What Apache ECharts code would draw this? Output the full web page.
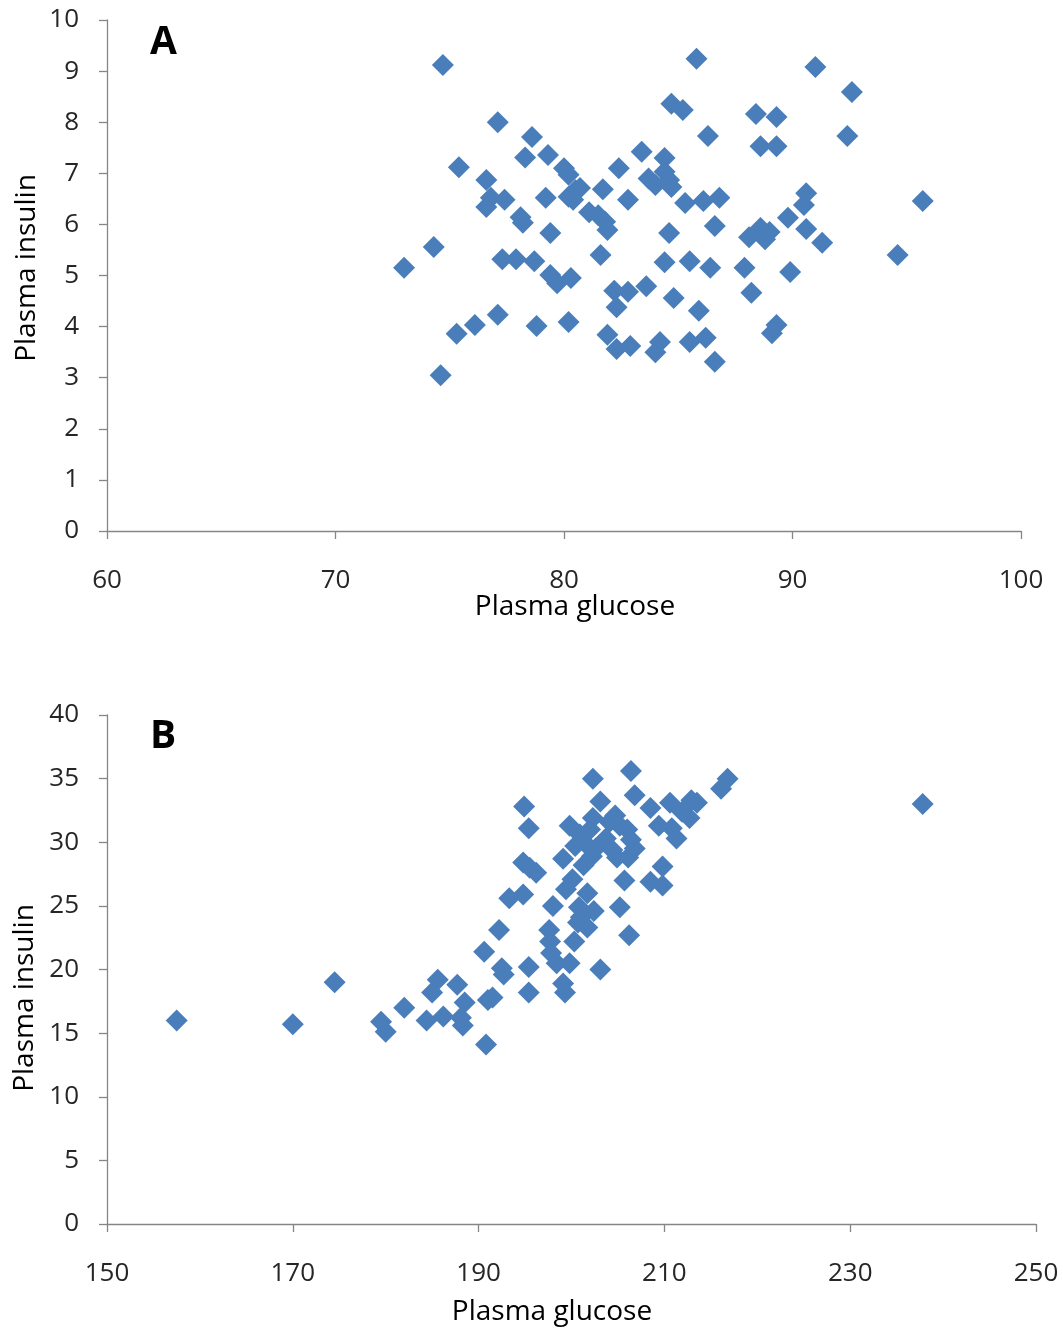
<!DOCTYPE html>
<html>
<head>
<meta charset="utf-8">
<script src="https://cdn.jsdelivr.net/npm/echarts@6/dist/echarts.min.js"></script>
<style>
html,body{margin:0;padding:0;background:#fff;}
#chart{width:1063px;height:1329px;}
</style>
</head>
<body>
<div id="chart"></div>
<script>
// Panel A
const glucoseA = [74.7,85.8,91.0,92.6,84.7,85.2,77.1,88.4,89.3,78.6,86.3,92.4,88.6,89.3,79.3,83.4,78.3,84.4,80.0,75.4,
  80.2,82.4,83.7,84.4,84.6,76.6,84.0,84.7,80.5,80.7,81.7,90.6,76.8,77.4,79.2,80.2,80.4,82.8,85.3,86.1,
  86.8,90.5,95.7,76.6,81.1,81.5,78.1,89.8,81.8,78.2,86.6,81.9,90.6,88.6,89.0,84.6,79.4,88.1,88.8,91.3,
  74.3,94.6,81.6,77.3,77.9,78.7,84.4,85.5,73.0,86.4,87.9,89.9,79.4,80.3,79.7,82.2,82.8,83.6,88.2,84.8,
  82.3,85.9,77.1,76.1,78.8,80.2,89.3,75.3,89.1,81.9,84.2,85.5,86.2,82.3,82.9,84.0,86.6,74.6];
const insulinA = [9.12,9.24,9.08,8.59,8.36,8.24,8.00,8.16,8.10,7.71,7.73,7.73,7.53,7.53,7.36,7.42,7.31,7.30,7.10,7.12,
  6.97,7.10,6.90,7.03,6.87,6.87,6.77,6.73,6.67,6.71,6.69,6.61,6.52,6.48,6.52,6.54,6.48,6.48,6.42,6.46,
  6.52,6.38,6.46,6.34,6.24,6.18,6.14,6.13,6.05,6.03,5.97,5.89,5.91,5.93,5.85,5.83,5.83,5.75,5.71,5.64,
  5.56,5.40,5.40,5.32,5.32,5.28,5.26,5.28,5.15,5.15,5.15,5.07,5.01,4.95,4.85,4.70,4.68,4.79,4.66,4.56,
  4.38,4.31,4.23,4.03,4.01,4.09,4.03,3.86,3.87,3.84,3.70,3.70,3.78,3.56,3.62,3.50,3.31,3.05];

// Panel B
const glucoseB = [157.5,170.0,174.5,179.5,180.0,182.0,184.4,185.0,185.6,186.2,187.7,188.1,188.5,188.3,190.8,190.6,191.0,191.5,192.2,192.5,
  192.7,193.3,194.8,194.9,195.4,194.8,195.5,196.2,195.4,195.4,198.0,197.6,197.7,197.8,198.4,199.1,199.3,199.8,199.1,199.8,
  199.4,200.1,200.4,200.9,202.0,202.3,200.8,200.7,201.0,200.3,201.7,201.7,201.3,202.2,201.5,202.3,203.1,203.1,202.4,203.7,
  204.1,204.7,205.2,204.9,204.4,206.0,206.4,206.4,206.8,206.1,205.7,205.2,206.2,206.8,208.5,209.4,209.8,208.5,209.8,210.8,
  211.3,210.6,211.9,212.7,212.9,213.5,216.1,216.8,237.8,202.6];
const insulinB = [16.0,15.7,19.0,15.9,15.1,17.0,16.0,18.2,19.2,16.3,18.8,16.2,17.4,15.6,14.1,21.4,17.6,17.8,23.1,20.1,
  19.6,25.6,25.9,32.8,31.1,28.4,28.0,27.6,20.2,18.2,25.0,23.1,22.2,21.3,20.5,18.9,18.2,20.5,28.7,31.3,
  26.3,27.1,29.7,30.6,31.0,31.9,24.9,23.7,24.1,22.2,23.3,26.0,28.2,28.9,29.9,35.0,33.2,20.0,24.6,30.3,
  31.6,32.1,31.3,28.8,29.4,31.0,35.6,30.2,29.5,28.8,27.0,24.9,22.7,33.7,32.7,31.3,28.1,26.9,26.6,31.1,
  30.3,33.1,32.4,31.9,33.3,33.1,34.2,35.0,33.0,29.5];

const xTicksA = [60,70,80,90,100];
const yTicksA = [0,1,2,3,4,5,6,7,8,9,10];
const xTicksB = [150,170,190,210,230,250];
const yTicksB = [0,5,10,15,20,25,30,35,40];

const FONT = '"Open Sans", "Noto Sans", sans-serif';
const AXIS_COLOR = '#868686';
const MARK_COLOR = '#4A7EBB';

function pairs(xs, ys){ return xs.map((x,i)=>[x, ys[i]]); }

function xAxis(gridIndex, ticks){
  return {
    type:'value', gridIndex, min:ticks[0], max:ticks[ticks.length-1],
    splitLine:{show:false},
    axisLine:{show:true, onZero:false, lineStyle:{color:AXIS_COLOR, width:1.3}},
    axisTick:{show:true, inside:false, length:8, customValues:ticks, lineStyle:{color:AXIS_COLOR, width:1.3}},
    axisLabel:{show:true, customValues:ticks, margin:37, color:'#262626', fontFamily:FONT, fontSize:26,
      showMinLabel:true, showMaxLabel:true}
  };
}
function yAxis(gridIndex, ticks){
  return {
    type:'value', gridIndex, min:ticks[0], max:ticks[ticks.length-1],
    splitLine:{show:false},
    axisLine:{show:true, onZero:false, lineStyle:{color:AXIS_COLOR, width:1.3}},
    axisTick:{show:true, inside:false, length:8, customValues:ticks, lineStyle:{color:AXIS_COLOR, width:1.3}},
    axisLabel:{show:true, customValues:ticks, margin:28, color:'#262626', fontFamily:FONT, fontSize:26,
      showMinLabel:true, showMaxLabel:true}
  };
}

const chart = echarts.init(document.getElementById('chart'), null, {renderer:'canvas'});
chart.setOption({
  animation:false,
  backgroundColor:'#ffffff',
  grid:[
    {left:107, top:20, width:914, height:511},
    {left:107, top:715, width:929, height:509}
  ],
  xAxis:[xAxis(0, xTicksA), xAxis(1, xTicksB)],
  yAxis:[yAxis(0, yTicksA), yAxis(1, yTicksB)],
  series:[
    {type:'scatter', xAxisIndex:0, yAxisIndex:0, symbol:'diamond', symbolSize:22,
     itemStyle:{color:MARK_COLOR, opacity:1}, data:pairs(glucoseA, insulinA)},
    {type:'scatter', xAxisIndex:1, yAxisIndex:1, symbol:'diamond', symbolSize:22,
     itemStyle:{color:MARK_COLOR, opacity:1}, data:pairs(glucoseB, insulinB)}
  ],
  graphic:[
    {type:'text', left:150, top:23, style:{text:'A', fontFamily:FONT, fontSize:39, fontWeight:'bold', fill:'#000'}},
    {type:'text', left:150, top:717, style:{text:'B', fontFamily:FONT, fontSize:39, fontWeight:'bold', fill:'#000'}},
    {type:'text', x:575, y:607, style:{text:'Plasma glucose', fontFamily:FONT, fontSize:28, fill:'#000', align:'center', verticalAlign:'middle'}},
    {type:'text', x:552, y:1312, style:{text:'Plasma glucose', fontFamily:FONT, fontSize:28, fill:'#000', align:'center', verticalAlign:'middle'}},
    {type:'text', x:27, y:268, rotation:Math.PI/2, style:{text:'Plasma insulin', fontFamily:FONT, fontSize:28, fill:'#000', align:'center', verticalAlign:'middle'}},
    {type:'text', x:25, y:998, rotation:Math.PI/2, style:{text:'Plasma insulin', fontFamily:FONT, fontSize:28, fill:'#000', align:'center', verticalAlign:'middle'}}
  ]
});
</script>
</body>
</html>
